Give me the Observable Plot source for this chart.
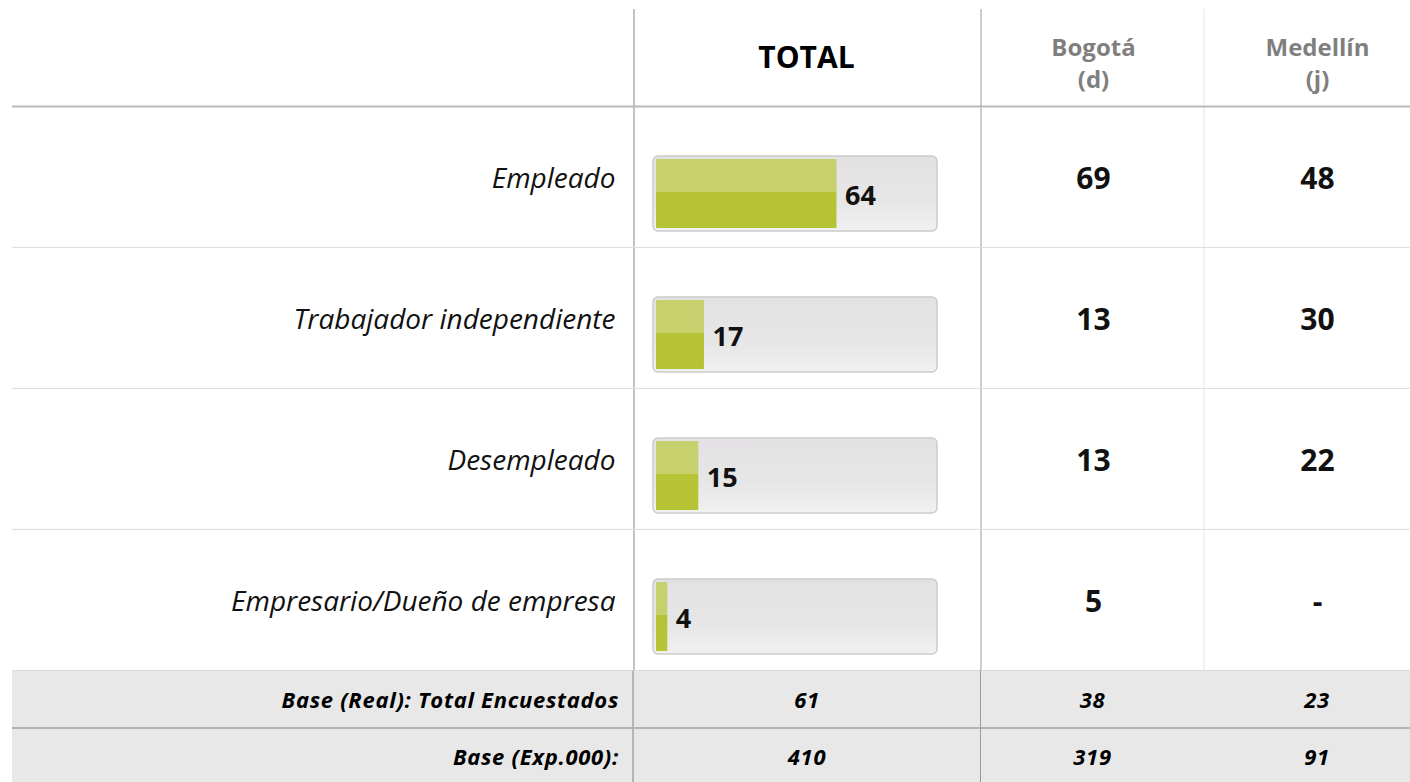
<!DOCTYPE html>
<html>
<head>
<meta charset="utf-8">
<script src="https://cdn.jsdelivr.net/npm/d3@7"></script>
<script src="https://cdn.jsdelivr.net/npm/@observablehq/plot@0.6"></script>
<style>
  html, body { margin: 0; padding: 0; background: #fff; }
  body { width: 1410px; height: 782px; overflow: hidden; font-family: "Open Sans", sans-serif; }
  #chart svg { display: block; overflow: visible; }
  #footer { display: grid; grid-template-columns: 12px 622px 347px 223px 206px; grid-template-rows: 57px 55px; }
  #footer .cell { background: #e8e8e8; display: flex; align-items: center; justify-content: center;
    font-weight: 700; font-style: italic; font-size: 22px; letter-spacing: 0.7px; color: #000; box-sizing: border-box; }
  #footer .blank { background: #fff; }
  #footer .lab { justify-content: flex-end; padding-right: 13px; border-right: 2px solid #b5b5b5; }
  #footer .c1 { border-right: 1px solid #9a9a9a; }
  #footer .c3 { padding-left: 20px; }
  #footer .r0 { border-top: 1px solid #dadada; }
  #footer .r1 { border-top: 2px solid #b3b3b3; }
</style>
</head>
<body>
<div id="chart"></div>
<div id="footer"></div>
<script>
// ---- data ----
const categories = ["Empleado", "Trabajador independiente", "Desempleado", "Empresario/Dueño de empresa"];
const totalValues = [64, 17, 15, 4];
const bogotaValues = [69, 13, 13, 5];
const medellinValues = [48, 30, 22, null]; // null shown as "-"
const columnTitles = ["TOTAL", "Bogotá\n(d)", "Medellín\n(j)"];
const baseLabels = ["Base (Real): Total Encuestados", "Base (Exp.000):"];
const baseReal = [61, 38, 23];
const baseExp = [410, 319, 91];

// ---- layout (pixels) ----
const W = 1410, H = 670, mTop = 105, mLeft = 12;
const colCenter = [806, 1093, 1317];
const labelRight = 615;

const rows = categories.map((c, i) => ({cat: c, total: totalValues[i], bogota: bogotaValues[i], medellin: medellinValues[i]}));
const bw = (H - mTop) / categories.length;
const font = "Open Sans";

const colText = (col, fmt) => Plot.text(rows, {y: "cat", text: fmt, frameAnchor: "left",
  dx: colCenter[col] - mLeft, dy: 2, textAnchor: "middle", fontSize: 30, fontWeight: "bold", fill: "#111",
  letterSpacing: 1});

const header = (i, opts) => Plot.text([columnTitles[i]], {text: d => d, frameAnchor: "top-left",
  dx: colCenter[i] - mLeft, textAnchor: "middle", lineAnchor: "middle", fontWeight: "bold", ...opts});

const chart = Plot.plot({
  width: W, height: H,
  marginTop: mTop, marginBottom: 0, marginLeft: mLeft, marginRight: 0,
  x: {domain: [0, 100], range: [656, 938], axis: null},
  y: {type: "band", domain: categories, padding: 0, axis: null},
  style: {fontFamily: font, background: "transparent", overflow: "visible"},
  marks: [
    // row separators
    Plot.ruleY(categories.slice(1), {y: d => d, dy: -bw / 2, stroke: "#dcdcdc", strokeWidth: 1}),
    Plot.ruleY(categories.slice(0, 1), {y: d => d, dy: -bw / 2, stroke: "#b9b9b9", strokeWidth: 2}),
    // background box of each bar
    Plot.barX(rows, {y: "cat", x1: 0, x2: 100, insetTop: 50, insetBottom: 16, insetLeft: -3, insetRight: 1,
      rx: 5, ry: 5, fill: "url(#boxGrad)", stroke: "#cccccc", strokeWidth: 1.5}),
    // green bars (two tones)
    Plot.barX(rows, {y: "cat", x1: 0, x2: "total", insetTop: 53, insetBottom: 55, fill: "#c6d06c"}),
    Plot.barX(rows, {y: "cat", x1: 0, x2: "total", insetTop: 86, insetBottom: 19, fill: "#b6c334"}),
    // bar values
    Plot.text(rows, {y: "cat", x: "total", text: d => String(d.total), textAnchor: "start", dx: 8, dy: 19,
      fontSize: 27, fontWeight: "bold", fill: "#111"}),
    // category labels
    Plot.text(rows, {y: "cat", text: "cat", frameAnchor: "left", dx: labelRight - mLeft, dy: 2, textAnchor: "end",
      fontSize: 28, fontStyle: "italic", fill: "#111", letterSpacing: 1.5}),
    // Bogotá & Medellín values
    colText(1, d => String(d.bogota)),
    colText(2, d => d.medellin == null ? "-" : String(d.medellin)),
    // column headers
    header(0, {dy: -47, fontSize: 30, fill: "#000", letterSpacing: 1}),
    header(1, {dy: -44, fontSize: 24, lineHeight: 1.35, fill: "#7f7f7f", letterSpacing: 1.2}),
    header(2, {dy: -44, fontSize: 24, lineHeight: 1.35, fill: "#7f7f7f", letterSpacing: 1.2})
  ]
});
document.getElementById("chart").appendChild(chart);

// Gradient for bar boxes
const svg = d3.select(chart);
const defs = svg.insert("defs", ":first-child");
const g = defs.append("linearGradient").attr("id", "boxGrad").attr("x1", 0).attr("y1", 0).attr("x2", 0).attr("y2", 1);
g.append("stop").attr("offset", "0%").attr("stop-color", "#e3e1e3");
g.append("stop").attr("offset", "60%").attr("stop-color", "#e7e6e7");
g.append("stop").attr("offset", "100%").attr("stop-color", "#f1f1f1");

// table vertical dividers (behind content)
const grid = svg.insert("g", "defs + *");
[[634, 9, H, "#c3c3c3", 2], [981, 9, H, "#9c9c9c", 1], [1204, 9, H, "#e6e6e6", 1]].forEach(([x, y1, y2, c, w]) => {
  grid.append("line").attr("x1", x).attr("x2", x).attr("y1", y1).attr("y2", y2).attr("stroke", c).attr("stroke-width", w);
});

// footer: base rows
const footer = d3.select("#footer");
[[baseLabels[0], baseReal, "r0"], [baseLabels[1], baseExp, "r1"]].forEach(([lab, vals, rc]) => {
  footer.append("div").attr("class", "cell blank");
  footer.append("div").attr("class", `cell lab ${rc}`).text(lab);
  vals.forEach((v, i) => footer.append("div").attr("class", `cell c${i + 1} ${rc}`).text(v));
});
</script>
</body>
</html>
